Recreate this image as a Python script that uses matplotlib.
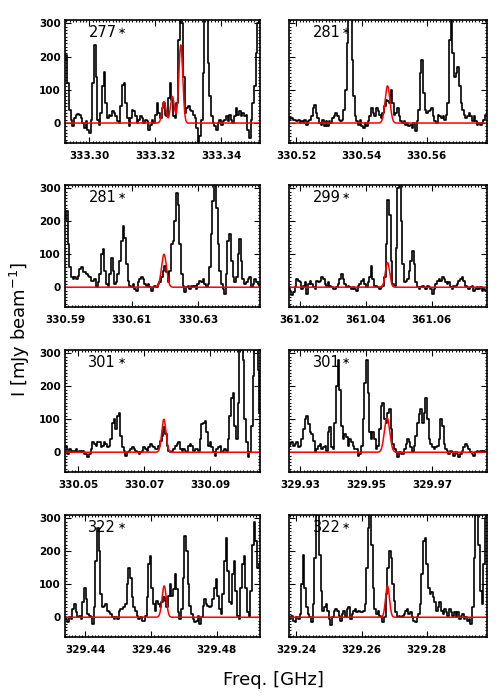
import numpy as np
import matplotlib
matplotlib.use("Agg")
import matplotlib.pyplot as plt
from matplotlib.ticker import MultipleLocator, FormatStrFormatter

# panel labels (upper-state energies), read left-to-right, top-to-bottom
labels = ["277", "281", "281", "299", "301", "301", "322", "322"]

# x limits of each panel [GHz]
xlims = [
    (333.2926, 333.3517),
    (330.5177, 330.5786),
    (330.5900, 330.6485),
    (361.0168, 361.0767),
    (330.0460, 330.1050),
    (329.9266, 329.9865),
    (329.4339, 329.4931),
    (329.2377, 329.2986),
]

# channel width [GHz] and first-channel frequency
chan = 0.0005
start = [333.2926, 330.5177, 330.5900, 361.0168, 330.0460, 329.9266, 329.4339, 329.2377]

# observed spectra [mJy/beam], one value per channel
spec_1 = [190, 205, 120, 40, 10, -10, 15, 25, 28, 25, 15, 0, -15, 5, -20, -30, 10, 120,
          235, 140, 10, -5, 30, 110, 155, 60, 15, 25, 20, 35, 30, 20, 5, 0, 50, 115,
          120, 60, 15, -10, 15, 40, 35, 20, 0, 10, 20, 15, 0, 10, 5, -20, -5, 10, 0,
          25, 60, 30, 15, 45, 60, 25, 20, 75, 120, 70, 20, 15, 60, 250, 330, 300, 140,
          30, 45, 50, 40, 35, 25, 15, -15, -60, -40, 10, 150, 330, 320, 180, 80, 20,
          0, -10, -20, 0, 10, -5, 5, 10, 20, 5, 25, 10, 0, 20, 45, 25, 35, 20, 30, 20,
          25, -20, -45, 10, 60, 110, 210, 300, 330]
spec_2 = [15, 12, 15, 10, 8, 5, 10, 0, 5, 0, 8, -5, 5, 10, 20, 45, 55, 30, 15, 0, -5,
          10, -8, 5, -10, 5, 0, 15, 20, 30, 20, 10, 5, 10, 40, 100, 240, 320, 330, 190,
          80, 20, 5, -5, 10, -10, -15, 0, -10, 5, 20, 45, 30, 20, 45, 35, 25, 15, 30,
          50, 70, 65, 60, 100, 60, 25, 30, 45, 20, 5, 0, 5, -5, 0, -10, -5, -15, 0,
          -25, 5, 40, 150, 190, 90, 40, 30, 35, 40, 45, 20, 5, 0, 25, 20, 15, 20, 10,
          25, 60, 250, 320, 210, 140, 150, 170, 110, 60, 40, 25, 15, 20, 30, 20, 5, 20,
          5, -5, 0, -5, 0, 10, 25, 40]
spec_3 = [200, 230, 130, 60, 30, 25, 30, 25, 35, 55, 60, 45, 45, 40, 35, 30, 20, 20,
          25, 0, 15, 40, 100, 115, 50, 10, 5, 40, 90, 50, 10, 15, 40, 80, 140, 185, 150,
          70, 20, 5, 0, 10, -5, -10, 15, 25, 30, 25, 10, 5, 10, 0, -10, 0, 5, 0, 10, 15,
          30, 50, 65, 45, 15, 50, 130, 140, 200, 285, 250, 130, 40, 5, -15, 0, 5, -5,
          5, 0, 5, -5, 10, 20, 15, 25, 10, 0, 10, 60, 160, 260, 310, 240, 130, 50, 10,
          -5, -20, 40, 140, 160, 80, 30, 15, 30, 100, 145, 80, 25, 10, 15, 25, 30, 0,
          10, 25, 15, 10, 5]
spec_4 = [0, -10, -25, -15, 0, 25, 20, 15, -5, 5, 15, -20, 10, 20, 10, 0, -5, 20, 15,
          20, 30, 25, 10, 5, 15, 5, 0, -5, -5, 0, 10, 25, 40, 25, 10, 0, 5, 0, -5, 0,
          -5, -10, 5, 10, 20, 25, 10, 0, 15, 30, 65, 25, 5, 5, 0, -5, 0, 5, 30, 130,
          265, 220, 80, 10, 5, 120, 300, 320, 200, 70, 15, 20, 25, 50, 80, 110, 70, 15,
          0, -5, 0, 5, 0, -5, 5, 0, -5, -20, -5, 10, 20, 25, 20, 30, 25, 15, 10, 15, 0,
          -5, 5, 5, 10, 20, 25, 30, 20, 5, 0, -5, 0, 5, -10, -5, 0, -5, 0, -10, -5,
          -10, 0]
spec_5 = [15, 20, -5, 10, 0, 5, 5, 10, 0, 5, 0, 5, -5, -5, -15, -5, 10, 30, 25, 20,
          30, 30, 15, 20, 30, 25, 15, 20, 40, 90, 100, 70, 110, 120, 50, 15, 5, -10, 0,
          5, 10, 15, 10, 5, 0, -5, 0, 5, 15, 10, 5, 15, 25, 20, 15, 10, 10, 20, 35, 50,
          75, 55, 20, 5, 0, 5, 10, 20, 25, 30, 10, 5, 10, 5, 0, 20, 25, 20, 5, 10, 10,
          5, 40, 85, 90, 95, 60, 20, 30, 15, 0, -10, 10, 15, 20, 0, 5, 10, 5, 40, 110,
          165, 180, 80, 40, 150, 310, 320, 280, 100, 30, -15, 0, 80, 230, 310, 320, 250,
          120, 80]
spec_6 = [20, 25, 30, 20, 25, 30, 15, 20, 40, 70, 100, 110, 85, 60, 55, 35, 0, 10, 20,
          25, 10, 15, 20, 5, 60, 75, 15, 10, 90, 200, 280, 190, 80, 40, 55, 45, 20, 40,
          30, 20, 10, 10, -10, -5, 20, 100, 210, 280, 180, 60, 40, 60, 40, 10, 20, 70,
          140, 150, 100, 90, 120, 130, 70, 25, 10, 0, -15, 0, -5, -5, 10, 25, 40, 30,
          15, 0, 20, 50, 90, 115, 130, 90, 120, 165, 100, 40, 25, 15, 10, 15, 20, 40,
          100, 80, 25, 10, 5, -5, 5, 0, -10, 0, -5, -15, -5, 5, 15, 25, 20, 10, 0, -5,
          -10, 0, 5, 0, 5, 0, 5, 0, 5]
spec_7 = [0, -5, -15, 0, -5, 25, 40, 15, 0, 5, -5, 45, 90, 55, 10, 5, 0, -20, 30, 170,
          270, 200, 70, 30, 35, 40, 20, 15, 10, 0, -5, 0, -5, 20, 25, 25, 30, 40, 100,
          150, 120, 60, 30, 20, 5, -5, 0, -10, -10, 5, 60, 160, 185, 90, 40, 20, 50, 40,
          30, 45, 60, 50, 30, 65, 100, 65, 85, 130, 85, 15, -5, 25, 120, 245, 200, 100,
          35, 10, -5, -15, -10, 5, -20, 0, 35, 55, 40, 35, 30, 35, 55, 90, 115, 65, 25,
          10, 70, 170, 240, 140, 45, 40, 130, 170, 80, 5, -5, 90, 160, 185, 90, 15, 0,
          80, 220, 290, 230, 150, 160]
spec_8 = [0, -5, 5, -10, -15, 0, -5, 10, 100, 190, 90, 30, 10, 0, -15, 40, 180, 310,
          310, 190, 80, 20, 30, 40, 20, -5, -25, 0, 20, 25, 20, 5, -10, 10, 20, 0, 25,
          30, -5, 10, 20, 25, 15, 20, 15, 15, 20, 40, 150, 270, 310, 220, 90, 25, 10,
          20, 5, 0, -15, 0, 70, 150, 200, 180, 100, 50, 15, 0, 5, 0, 5, 10, 20, 25, 10,
          15, 0, -10, -15, 0, 10, 40, 130, 230, 240, 160, 90, 70, 75, 60, 45, 20, 30,
          45, 20, 10, 25, 15, 5, 25, 15, 5, 15, 0, 15, -5, 5, 10, -5, 0, -10, -5, -20,
          30, 180, 310, 320, 220, 80, 40, 160, 300, 330]
spectra = [spec_1, spec_2, spec_3, spec_4, spec_5, spec_6, spec_7, spec_8]

# fitted gaussian components: (centre GHz, peak mJy/beam, sigma GHz)
models = [
    [(333.32263, 65, 0.00060), (333.32515, 80, 0.00060), (333.32768, 235, 0.00060)],
    [(330.54800, 112, 0.00075)],
    [(330.61970, 100, 0.00075)],
    [(361.04660, 75, 0.00065)],
    [(330.07592, 100, 0.00065)],
    [(329.95626, 105, 0.00080)],
    [(329.46400, 95, 0.00065)],
    [(329.26800, 95, 0.00060)],
]

# ticks to label on each panel
xticks = [
    [333.30, 333.32, 333.34],
    [330.52, 330.54, 330.56],
    [330.59, 330.61, 330.63],
    [361.02, 361.04, 361.06],
    [330.05, 330.07, 330.09],
    [329.93, 329.95, 329.97],
    [329.44, 329.46, 329.48],
    [329.24, 329.26, 329.28],
]

fig = plt.figure(figsize=(5, 7), dpi=100)

col_x = [(65, 195), (289, 198)]
row_y = [(20, 143), (185, 307), (350, 472), (515, 637)]

for k in range(8):
    r, c = divmod(k, 2)
    x0, w = col_x[c]
    top, bot = row_y[r]
    ax = fig.add_axes([x0 / 500, 1 - bot / 700, w / 500, (bot - top) / 700])

    y = np.array(spectra[k], dtype=float)
    x = start[k] + chan * np.arange(len(y))
    ax.step(x, y, where="mid", color="black", lw=1.2)

    xm = np.linspace(xlims[k][0], xlims[k][1], 800)
    ym = np.zeros_like(xm)
    for cen, amp, sig in models[k]:
        ym += amp * np.exp(-0.5 * ((xm - cen) / sig) ** 2)
    ax.plot(xm, ym, color="red", lw=1.1)

    ax.set_xlim(*xlims[k])
    ax.set_ylim(-60, 310)
    ax.set_xticks(xticks[k])
    ax.xaxis.set_major_formatter(FormatStrFormatter("%.2f"))
    ax.xaxis.set_minor_locator(MultipleLocator(0.001))
    ax.set_yticks([0, 100, 200, 300])
    ax.yaxis.set_minor_locator(MultipleLocator(10))
    ax.tick_params(which="both", direction="in", top=True, right=True,
                   width=0.8, labelsize=7.5)
    ax.tick_params(which="major", length=4)
    ax.tick_params(which="minor", length=1.5)
    ax.tick_params(axis="x", pad=6)
    ax.tick_params(axis="y", pad=3)
    for lab in ax.get_xticklabels() + ax.get_yticklabels():
        lab.set_fontweight("bold")
    if c == 1:
        ax.set_yticklabels([])
    for s in ax.spines.values():
        s.set_linewidth(1.2)

    t = ax.text(0.12, 0.96, labels[k], transform=ax.transAxes,
                fontsize=10.5, ha="left", va="top")
    ax.annotate("\u2217", xy=(1.0, 0.6), xycoords=t, xytext=(1, 0),
                textcoords="offset points", fontsize=7, ha="left", va="center")

fig.text(0.04, 0.53, r"I [mJy beam$^{-1}$]", rotation=90, fontsize=13,
         ha="center", va="center")
fig.text(0.546, 0.028, "Freq. [GHz]", fontsize=13, ha="center", va="center")

fig.savefig("out.png", dpi=100)
